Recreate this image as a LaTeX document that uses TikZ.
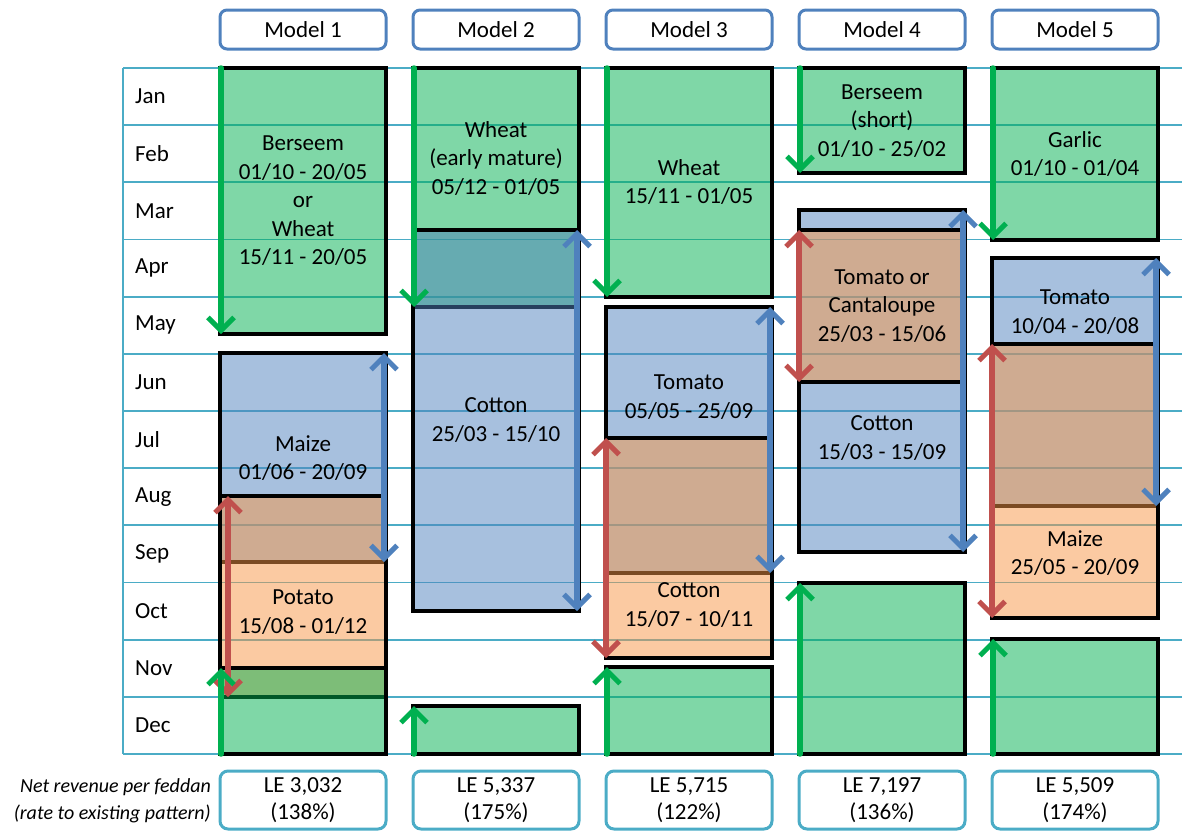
\documentclass[tikz,border=0pt]{standalone}
\usepackage{fontspec}
\setmainfont{Carlito}
\usetikzlibrary{arrows.meta}
\definecolor{gbase}{RGB}{0,176,80}
\definecolor{bbase}{RGB}{79,129,189}
\definecolor{obase}{RGB}{247,150,70}
\definecolor{rarrow}{RGB}{192,80,77}
\definecolor{gridc}{RGB}{75,172,198}
\definecolor{hdrc}{RGB}{79,129,189}
\begin{document}
\begin{tikzpicture}[x=1pt,y=-1pt,
  cropbox/.style={draw=black, line width=3.5pt, fill opacity=0.5, inner sep=0pt, outer sep=0pt, minimum width=166pt, anchor=north west},
  lab/.style={font=\fontsize{23}{28.5}\selectfont, align=center, inner sep=0pt},
  month/.style={font=\fontsize{23}{28}\selectfont, anchor=west, inner sep=0pt},
  hdr/.style={draw=hdrc, line width=3pt, rounded corners=7pt, minimum width=166pt, minimum height=39pt, font=\fontsize{23}{28}\selectfont, inner sep=0pt, outer sep=0pt, anchor=north west},
  rev/.style={draw=gridc, line width=3pt, rounded corners=8pt, minimum width=166pt, minimum height=58pt, align=center, font=\fontsize{23}{27}\selectfont, inner sep=0pt, outer sep=0pt, anchor=north west},
  gridline/.style={draw=gridc, line width=1.8pt},
  tipb/.tip={Straight Barb[length=13pt,width=26pt,line width=5pt]},
  garr/.style={draw=gbase, line width=5.5pt, line cap=round, -tipb},
  barr/.style={draw=bbase, line width=5.5pt, line cap=round, tipb-tipb},
  rarr/.style={draw=rarrow, line width=5.5pt, line cap=round, tipb-tipb},
]
\useasboundingbox (0,0) rectangle (1182,830);
% grid
\foreach \k in {0,...,12} \draw[gridline] (123,{68+57.17*\k}) -- (1182,{68+57.17*\k});
\draw[gridline] (123,68) -- (123,754);
\foreach \m [count=\i from 0] in {Jan,Feb,Mar,Apr,May,Jun,Jul,Aug,Sep,Oct,Nov,Dec}
  \node[month] (mon\i) at (135,{68+57.17*(\i+0.5)}) {\m};
% headers
\node[hdr] (h1) at (220,10) {Model 1};
\node[hdr] (h2) at (413,10) {Model 2};
\node[hdr] (h3) at (606,10) {Model 3};
\node[hdr] (h4) at (799,10) {Model 4};
\node[hdr] (h5) at (992,10) {Model 5};
% Model 1
\node[cropbox, fill=gbase, minimum height=266pt] (m1w) at (220,68) {};
\node[cropbox, fill=bbase, minimum height=209pt] (m1m) at (220,353) {};
\node[cropbox, fill=obase, minimum height=201pt] (m1p) at (220,496) {};
\node[cropbox, fill=gbase, minimum height=86pt] (m1d) at (220,668) {};
% Model 2
\node[cropbox, fill=gbase, minimum height=239pt] (m2w) at (413,68) {};
\node[cropbox, fill=bbase, minimum height=381pt] (m2c) at (413,230) {};
\node[cropbox, fill=gbase, minimum height=48pt] (m2d) at (413,706) {};
% Model 3
\node[cropbox, fill=gbase, minimum height=229pt] (m3w) at (606,68) {};
\node[cropbox, fill=bbase, minimum height=266pt] (m3t) at (606,307) {};
\node[cropbox, fill=obase, minimum height=220pt] (m3c) at (606,438) {};
\node[cropbox, fill=gbase, minimum height=87pt] (m3d) at (606,667) {};
% Model 4
\node[cropbox, fill=gbase, minimum height=105pt] (m4b) at (799,68) {};
\node[cropbox, fill=bbase, minimum height=342pt] (m4c) at (799,210) {};
\node[cropbox, fill=obase, minimum height=152pt] (m4t) at (799,230) {};
\node[cropbox, fill=gbase, minimum height=171pt] (m4g) at (799,583) {};
% Model 5
\node[cropbox, fill=gbase, minimum height=172pt] (m5g) at (992,68) {};
\node[cropbox, fill=bbase, minimum height=248pt] (m5t) at (992,258) {};
\node[cropbox, fill=obase, minimum height=274pt] (m5m) at (992,344) {};
\node[cropbox, fill=gbase, minimum height=115pt] (m5d) at (992,639) {};
% arrows
\draw[garr] ([xshift=1pt]m1w.north west) -- ([xshift=1pt]m1w.south west);
\draw[barr] ([xshift=-2pt]m1m.north east) -- ([xshift=-2pt]m1m.south east);
\draw[rarr] ([xshift=8pt]m1p.north west) -- ([xshift=8pt]m1p.south west);
\draw[garr] ([xshift=1pt]m1d.south west) -- ([xshift=1pt]m1d.north west);
\draw[garr] ([xshift=1pt]m2w.north west) -- ([xshift=1pt]m2w.south west);
\draw[barr] ([xshift=-2pt]m2c.north east) -- ([xshift=-2pt]m2c.south east);
\draw[garr] ([xshift=1pt]m2d.south west) -- ([xshift=1pt]m2d.north west);
\draw[garr] ([xshift=1pt]m3w.north west) -- ([xshift=1pt]m3w.south west);
\draw[barr] ([xshift=-2pt]m3t.north east) -- ([xshift=-2pt]m3t.south east);
\draw[rarr] (m3c.north west) -- (m3c.south west);
\draw[garr] ([xshift=1pt]m3d.south west) -- ([xshift=1pt]m3d.north west);
\draw[garr] ([xshift=1pt]m4b.north west) -- ([xshift=1pt]m4b.south west);
\draw[rarr] (m4t.north west) -- (m4t.south west);
\draw[barr] ([xshift=-2pt]m4c.north east) -- ([xshift=-2pt]m4c.south east);
\draw[garr] ([xshift=1pt]m4g.south west) -- ([xshift=1pt]m4g.north west);
\draw[garr] ([xshift=1pt]m5g.north west) -- ([xshift=1pt]m5g.south west);
\draw[barr] ([xshift=-2pt]m5t.north east) -- ([xshift=-2pt]m5t.south east);
\draw[rarr] (m5m.north west) -- (m5m.south west);
\draw[garr] ([xshift=1pt]m5d.south west) -- ([xshift=1pt]m5d.north west);
% labels
\node[lab] (t1a) at (303,201) {Berseem\\01/10 - 20/05\\or\\Wheat\\15/11 - 20/05};
\node[lab] (t1b) at (303,458) {Maize\\01/06 - 20/09};
\node[lab] (t1c) at (303,612) {Potato\\15/08 - 01/12};
\node[lab] (t2a) at (496,158) {Wheat\\(early mature)\\05/12 - 01/05};
\node[lab] (t2b) at (496,420) {Cotton\\25/03 - 15/10};
\node[lab] (t3a) at (689,182) {Wheat\\15/11 - 01/05};
\node[lab] (t3b) at (689,397) {Tomato\\05/05 - 25/09};
\node[lab] (t3c) at (689,605) {Cotton\\15/07 - 10/11};
\node[lab] (t4a) at (882,121) {Berseem\\(short)\\01/10 - 25/02};
\node[lab] (t4b) at (882,306) {Tomato or\\Cantaloupe\\25/03 - 15/06};
\node[lab] (t4c) at (882,438) {Cotton\\15/03 - 15/09};
\node[lab] (t5a) at (1075,154) {Garlic\\01/10 - 01/04};
\node[lab] (t5b) at (1075,312) {Tomato\\10/04 - 20/08};
\node[lab] (t5c) at (1075,553) {Maize\\25/05 - 20/09};
% revenue
\node[rev] (r1) at (220,771) {LE 3,032\\(138\%)};
\node[rev] (r2) at (413,771) {LE 5,337\\(175\%)};
\node[rev] (r3) at (606,771) {LE 5,715\\(122\%)};
\node[rev] (r4) at (799,771) {LE 7,197\\(136\%)};
\node[rev] (r5) at (992,771) {LE 5,509\\(174\%)};
\node[anchor=east, align=right, inner sep=0pt, font=\itshape\fontsize{20}{27}\selectfont] (netlab) at (211,801) {Net revenue per feddan\\(rate to existing pattern)};
\end{tikzpicture}
\end{document}
